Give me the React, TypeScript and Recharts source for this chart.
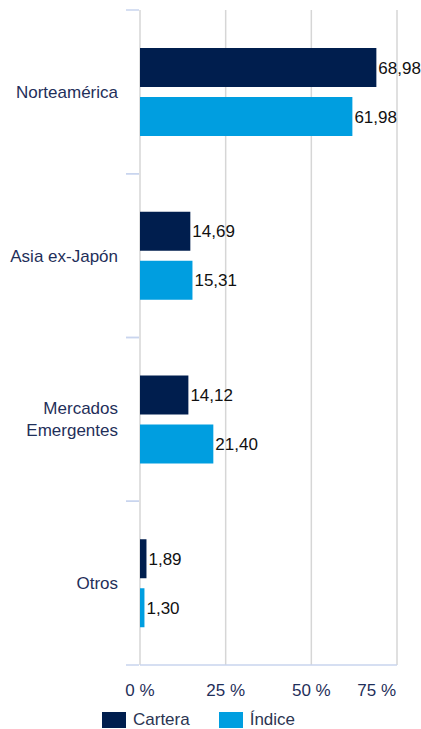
import { Bar, BarChart, CartesianGrid, LabelList, XAxis, YAxis } from "recharts";

const categories = ["Norteamérica", "Asia ex-Japón", "Mercados\nEmergentes", "Otros"];
const cartera = [68.98, 14.69, 14.12, 1.89];
const indice = [61.98, 15.31, 21.4, 1.3];
const xTicks = [0, 25, 50, 75];

const data = categories.map((name, i) => ({ name, cartera: cartera[i], indice: indice[i] }));

const W = 421;
const H = 729;
const TOP = 10;
const X_AXIS_H = 64;
const Y_AXIS_W = 140;
const BAND = (H - TOP - X_AXIS_H) / categories.length;

const FONT = "'Liberation Sans', Arial, sans-serif";
const NAVY = "#001e4e";
const BLUE = "#009ee0";
const TEXT = "#1f2f5a";
const TICK_LINE = "#c9d5ee";

const fmt = (v: number) => v.toFixed(2).replace(".", ",");

function CategoryTick(props: any) {
  const { y, payload } = props;
  const lines = String(payload.value).split("\n");
  const start = y - ((lines.length - 1) * 22) / 2;
  return (
    <g>
      <line x1={Y_AXIS_W - 14} x2={Y_AXIS_W - 1} y1={y - BAND / 2} y2={y - BAND / 2} stroke={TICK_LINE} strokeWidth={1.5} />
      <line x1={Y_AXIS_W - 14} x2={Y_AXIS_W - 1} y1={y + BAND / 2} y2={y + BAND / 2} stroke={TICK_LINE} strokeWidth={1.5} />
      <text x={Y_AXIS_W - 22} y={start} textAnchor="end" dominantBaseline="central" fill={TEXT} fontSize={17} fontFamily={FONT}>
        {lines.map((l, i) => (
          <tspan key={i} x={Y_AXIS_W - 22} y={start + i * 22}>
            {l}
          </tspan>
        ))}
      </text>
    </g>
  );
}

function PctTick(props: any) {
  const { x, payload } = props;
  const last = payload.value === xTicks[xTicks.length - 1];
  return (
    <text
      x={last ? x - 1 : x}
      y={H - X_AXIS_H + 25}
      textAnchor={last ? "end" : "middle"}
      dominantBaseline="central"
      fill={TEXT}
      fontSize={17}
      fontFamily={FONT}
    >
      {payload.value} %
    </text>
  );
}

function LegendItem({ color, label }: { color: string; label: string }) {
  return (
    <div style={{ display: "flex", alignItems: "center", marginRight: 29, height: 17 }}>
      <div style={{ width: 24, height: 16, background: color, marginRight: 7 }} />
      <span style={{ fontSize: 17, lineHeight: "17px", color: "#2b3552", fontFamily: FONT }}>{label}</span>
    </div>
  );
}

export default function App() {
  return (
    <div style={{ position: "absolute", left: 0, top: 0, width: W, height: H, background: "#fff", overflow: "hidden" }}>
      <BarChart
        width={W}
        height={H}
        data={data}
        layout="vertical"
        margin={{ top: TOP, right: 24, left: 0, bottom: 0 }}
        barSize={39}
        barGap={10}
      >
        <CartesianGrid horizontal={false} stroke="#d6d6d6" strokeWidth={1.5} />
        <XAxis
          type="number"
          domain={[0, 75]}
          ticks={xTicks}
          height={X_AXIS_H}
          tick={<PctTick />}
          tickLine={false}
          axisLine={{ stroke: TICK_LINE, strokeWidth: 1.5 }}
        />
        <YAxis
          type="category"
          dataKey="name"
          width={Y_AXIS_W}
          tick={<CategoryTick />}
          tickLine={false}
          axisLine={false}
          interval={0}
        />
        <Bar dataKey="cartera" fill={NAVY} isAnimationActive={false}>
          <LabelList dataKey="cartera" position="right" offset={2} formatter={(v: any) => fmt(Number(v))} fill="#111" fontSize={17} fontFamily={FONT} />
        </Bar>
        <Bar dataKey="indice" fill={BLUE} isAnimationActive={false}>
          <LabelList dataKey="indice" position="right" offset={2} formatter={(v: any) => fmt(Number(v))} fill="#111" fontSize={17} fontFamily={FONT} />
        </Bar>
      </BarChart>
      <div style={{ position: "absolute", left: 102, top: 711, display: "flex" }}>
        <LegendItem color={NAVY} label="Cartera" />
        <LegendItem color={BLUE} label="Índice" />
      </div>
    </div>
  );
}
